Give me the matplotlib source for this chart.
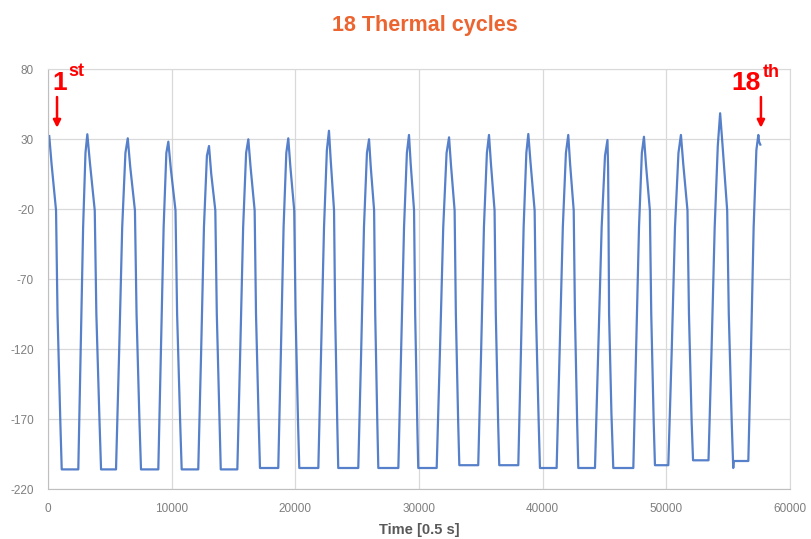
import matplotlib
matplotlib.use('Agg')
import matplotlib.pyplot as plt

plt.rcParams['axes.unicode_minus'] = False

# Time in 0.5 s units, temperature readings, one row per cycle
cycle_time = [
    [100, 290, 650, 770, 1000, 1110, 2450, 2640, 2840, 3030],
    [3180, 3390, 3780, 3910, 4170, 4290, 5500, 5750, 6000, 6260],
    [6450, 6650, 7030, 7160, 7400, 7520, 8920, 9130, 9350, 9570],
    [9730, 9940, 10310, 10440, 10690, 10810, 12150, 12380, 12610, 12850],
    [13020, 13200, 13530, 13650, 13870, 13970, 15310, 15540, 15780, 16020],
    [16200, 16380, 16710, 16820, 17040, 17140, 18620, 18830, 19050, 19270],
    [19430, 19600, 19910, 20020, 20220, 20320, 21860, 22080, 22320, 22550],
    [22720, 22860, 23130, 23220, 23390, 23470, 25090, 25320, 25550, 25790],
    [25960, 26100, 26370, 26460, 26630, 26710, 28330, 28550, 28790, 29020],
    [29190, 29330, 29600, 29690, 29860, 29940, 31430, 31690, 31960, 32230],
    [32430, 32590, 32880, 32980, 33170, 33260, 34790, 35020, 35250, 35490],
    [35660, 35820, 36110, 36210, 36400, 36490, 38030, 38240, 38460, 38680],
    [38840, 39020, 39350, 39460, 39680, 39780, 41130, 41370, 41630, 41880],
    [42070, 42220, 42510, 42610, 42790, 42880, 44230, 44490, 44770, 45040],
    [45240, 45290, 45320, 45370, 45560, 45710, 47330, 47550, 47790, 48020],
    [48190, 48360, 48670, 48780, 48980, 49080, 50160, 50430, 50700, 50980],
    [51180, 51370, 51710, 51830, 52050, 52160, 53410, 53650, 53910, 54160],
    [54350, 54550, 54920, 55050, 55290, 55410, 55450, 56630, 56840, 57060, 57280],
    [57440, 57500, 57600],
]
cycle_temp = [
    [32.1, 12, -21, -95, -173, -206, -206, -123, -33, 20],
    [33.4, 13, -21, -95, -173, -206, -206, -123, -33, 20],
    [30.5, 10, -21, -95, -173, -206, -206, -123, -33, 20],
    [28.1, 8, -21, -95, -173, -206, -206, -123, -33, 18],
    [25.0, 5, -21, -95, -173, -206, -206, -123, -33, 20],
    [29.8, 10, -21, -95, -173, -205, -205, -123, -33, 20],
    [30.5, 10, -21, -95, -173, -205, -205, -123, -33, 22],
    [35.9, 15, -21, -95, -173, -205, -205, -123, -33, 20],
    [29.8, 10, -21, -95, -173, -205, -205, -123, -33, 20],
    [32.9, 12, -21, -95, -173, -205, -205, -123, -33, 20],
    [31.2, 11, -21, -95, -173, -203, -203, -123, -33, 20],
    [32.9, 12, -21, -95, -173, -203, -203, -123, -33, 20],
    [33.6, 13, -21, -95, -173, -205, -205, -123, -33, 20],
    [32.9, 12, -21, -95, -173, -205, -205, -123, -33, 18],
    [29.3, 10, -21, -95, -166, -205, -205, -123, -33, 20],
    [31.6, 11, -21, -95, -173, -203, -203, -123, -33, 20],
    [32.9, 12, -21, -95, -173, -199.5, -199.5, -123, -33, 25],
    [48.4, 25, -21, -95, -173, -205, -200, -200, -123, -33, 22],
    [32.9, 28, 26],
]
x_ticks = [0, 10000, 20000, 30000, 40000, 50000, 60000]
y_ticks = [80, 30, -20, -70, -120, -170, -220]

time = [t for row in cycle_time for t in row]
temp = [v for row in cycle_temp for v in row]

fig = plt.figure(figsize=(8.11, 5.39), dpi=100)
ax = fig.add_axes([48/811, 1 - 489/539, (790 - 48)/811, (489 - 69)/539])

ax.plot(time, temp, color='#4472C4', linewidth=1.6, alpha=0.9)

ax.set_xlim(0, 60000)
ax.set_ylim(-220, 80)
ax.set_xticks(x_ticks)
ax.set_yticks(y_ticks)
ax.grid(True, color='#D9D9D9', linewidth=0.9)
ax.set_axisbelow(True)
ax.tick_params(length=0, labelsize=8.5, colors='#7F7F7F', pad=10)
for lab in ax.get_xticklabels() + ax.get_yticklabels():
    lab.set_family('Liberation Sans')
for s in ['top', 'right']:
    ax.spines[s].set_color('#D9D9D9')
for s in ['left', 'bottom']:
    ax.spines[s].set_color('#BFBFBF')

ax.set_xlabel('Time [0.5 s]', fontsize=10.5, fontweight='bold', color='#595959',
              family='Liberation Sans', labelpad=6)

fig.text(425/811, 1 - 31/539, '18 Thermal cycles', ha='center', va='baseline',
         fontsize=15.5, fontweight='bold', color='#EC6530', family='Liberation Sans')

# cycle markers
red = '#FF0000'
fig.text(52/811, 1 - 90/539, '1', fontsize=19, fontweight='bold', color=red,
         family='Liberation Sans', va='baseline')
fig.text(68/811, 1 - 76/539, 'st', fontsize=13, fontweight='bold', color=red,
         family='Liberation Sans', va='baseline')
fig.text(731/811, 1 - 90/539, '18', fontsize=19, fontweight='bold', color=red,
         family='Liberation Sans', va='baseline')
fig.text(763/811, 1 - 77/539, 'th', fontsize=13, fontweight='bold', color=red,
         family='Liberation Sans', va='baseline')

arrow = dict(arrowstyle='-|>', color=red, lw=1.8, mutation_scale=11, shrinkA=0, shrinkB=0)
ax.annotate('', xy=(730, 38), xytext=(730, 60), arrowprops=arrow)
ax.annotate('', xy=(57650, 38), xytext=(57650, 60), arrowprops=arrow)

fig.savefig('out.png', dpi=100)
